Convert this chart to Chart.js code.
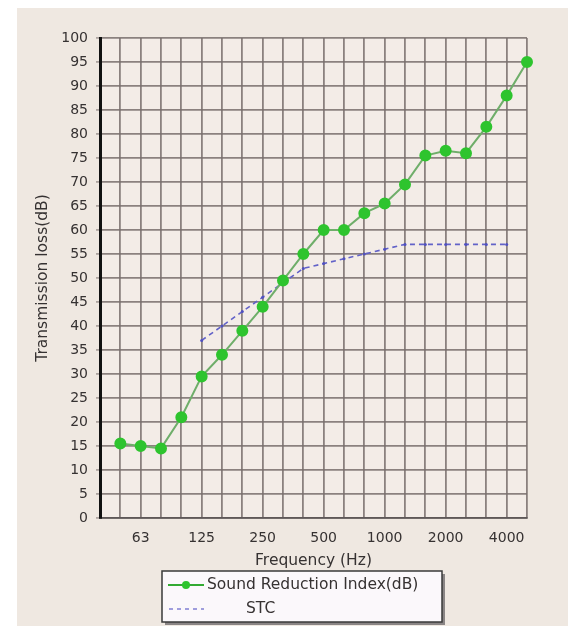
<!DOCTYPE html>
<html>
<head>
<meta charset="utf-8">
<script src="https://cdn.jsdelivr.net/npm/chart.js@4"></script>
<style>
  html, body { margin: 0; padding: 0; background: #ffffff; }
  #wrap { width: 568px; height: 626px; }
</style>
</head>
<body>
<div id="wrap"><canvas id="c" width="568" height="626"></canvas></div>
<script>
// Frequency bands (Hz); first empty slot is the axis origin
const categories = ['', '50', '63', '80', '100', '125', '160', '200', '250', '315', '400', '500', '630', '800', '1000', '1250', '1600', '2000', '2500', '3150', '4000', '5000'];
const soundReductionIndex = [null, 15.5, 15, 14.5, 21, 29.5, 34, 39, 44, 49.5, 55, 60, 60, 63.5, 65.5, 69.5, 75.5, 76.5, 76, 81.5, 88, 95];
const stcContour = [null, null, null, null, null, 37, 40, 43, 46, 49, 52, 53, 54, 55, 56, 57, 57, 57, 57, 57, 57, null];
const shownTickLabels = ['63', '125', '250', '500', '1000', '2000', '4000'];
const seriesNames = ['Sound Reduction Index(dB)', 'STC'];

const FONT = 'DejaVu Sans';
const GRID = 'rgba(120,110,108,0.85)';
const TEXT = '#363232';

const backgroundPlugin = {
  id: 'bg',
  beforeDraw(chart) {
    const ctx = chart.ctx;
    ctx.save();
    ctx.fillStyle = '#ffffff';
    ctx.fillRect(0, 0, chart.width, chart.height);
    ctx.fillStyle = '#efe8e1';
    ctx.fillRect(17, 8, chart.width - 17, chart.height - 8);
    const a = chart.chartArea;
    ctx.fillStyle = '#f3ece7';
    ctx.fillRect(a.left, a.top, a.right - a.left, a.bottom - a.top);
    ctx.restore();
  }
};

const legendPlugin = {
  id: 'customLegend',
  afterDraw(chart) {
    const ctx = chart.ctx;
    const x = 162, y = 571, w = 280, h = 51;
    ctx.save();
    ctx.fillStyle = '#8a8585';
    ctx.fillRect(x + 3, y + 3, w, h);
    ctx.fillStyle = '#fbf8fb';
    ctx.fillRect(x, y, w, h);
    ctx.strokeStyle = '#3a3a3a';
    ctx.lineWidth = 1.5;
    ctx.strokeRect(x, y, w, h);

    const ds0 = chart.data.datasets[0];
    const ds1 = chart.data.datasets[1];
    ctx.strokeStyle = '#33aa33';
    ctx.lineWidth = 2;
    ctx.beginPath();
    ctx.moveTo(168, 585); ctx.lineTo(204, 585);
    ctx.stroke();
    ctx.fillStyle = ds0.pointBackgroundColor;
    ctx.beginPath();
    ctx.arc(186, 585, 4, 0, Math.PI * 2);
    ctx.fill();
    ctx.fillStyle = TEXT;
    ctx.font = '15.5px "' + FONT + '"';
    ctx.textBaseline = 'middle';
    ctx.textAlign = 'left';
    ctx.fillText(ds0.label, 207, 585);
    ctx.strokeStyle = ds1.borderColor;
    ctx.lineWidth = 1.2;
    ctx.setLineDash([4, 4]);
    ctx.beginPath();
    ctx.moveTo(169, 609); ctx.lineTo(204, 609);
    ctx.stroke();
    ctx.setLineDash([]);
    ctx.fillText(ds1.label, 246, 609);
    ctx.restore();
  }
};

new Chart(document.getElementById('c'), {
  type: 'line',
  data: {
    labels: categories,
    datasets: [
      {
        label: seriesNames[0],
        data: soundReductionIndex,
        borderColor: '#6fae6a',
        borderWidth: 2,
        pointBackgroundColor: '#2ec42e',
        pointBorderColor: '#2ec42e',
        pointRadius: 5,
        pointStyle: 'circle',
        tension: 0,
        spanGaps: false,
        order: 1
      },
      {
        label: seriesNames[1],
        data: stcContour,
        borderColor: '#6262c8',
        borderWidth: 1.6,
        borderDash: [5, 4],
        pointRadius: 1.5,
        pointBackgroundColor: '#5050c0',
        pointBorderWidth: 0,
        tension: 0,
        order: 2
      }
    ]
  },
  options: {
    responsive: false,
    animation: false,
    devicePixelRatio: 1,
    layout: { padding: { left: 0, right: 41, top: 38, bottom: 0 } },
    plugins: {
      legend: { display: false },
      tooltip: { enabled: false }
    },
    scales: {
      x: {
        type: 'category',
        offset: false,
        grid: { color: GRID, lineWidth: 1.8, drawTicks: false },
        border: { color: '#5e5858', width: 1.8 },
        ticks: {
          autoSkip: false,
          maxRotation: 0,
          minRotation: 0,
          padding: 12,
          color: TEXT,
          font: { family: FONT, size: 14 },
          callback: function (v) {
            const l = this.getLabelForValue(v);
            return shownTickLabels.includes(l) ? l : '';
          }
        },
        title: {
          display: true,
          text: 'Frequency (Hz)',
          color: TEXT,
          font: { family: FONT, size: 15.5 },
          padding: { top: 0, bottom: 56 }
        },
        afterFit(scale) { scale.height = 108; }
      },
      y: {
        min: 0,
        max: 100,
        grid: { color: GRID, lineWidth: 1.8, tickLength: 4, tickColor: 'rgba(128,118,116,0.6)' },
        border: { color: '#111111', width: 3 },
        ticks: {
          stepSize: 5,
          padding: 8,
          color: TEXT,
          font: { family: FONT, size: 14 }
        },
        title: {
          display: true,
          text: 'Transmission loss(dB)',
          color: TEXT,
          font: { family: FONT, size: 15.5 },
          padding: { top: 34, bottom: 0 }
        },
        afterFit(scale) { scale.width = 100; }
      }
    }
  },
  plugins: [backgroundPlugin, legendPlugin]
});
</script>
</body>
</html>
